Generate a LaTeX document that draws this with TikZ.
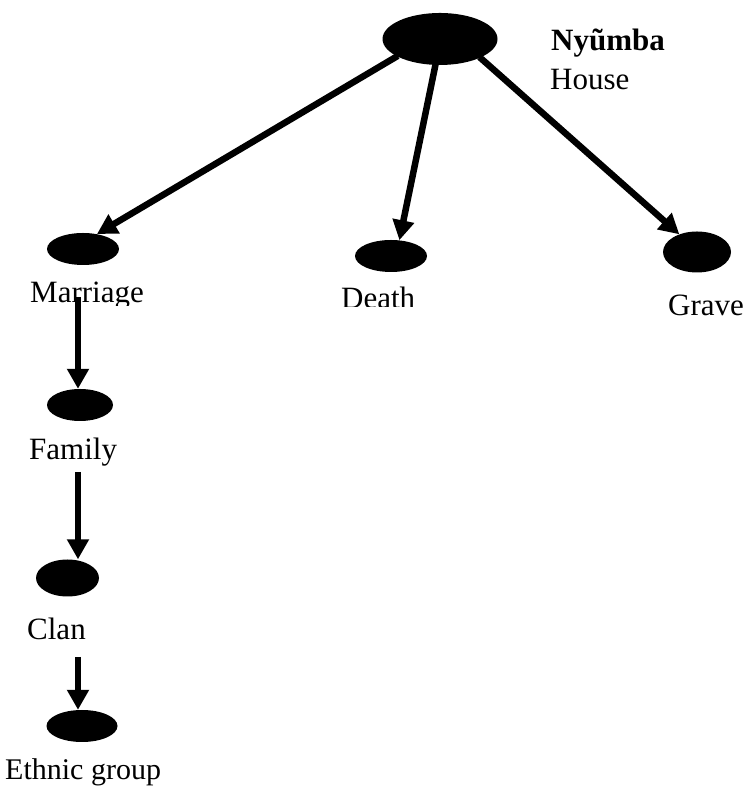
\documentclass[tikz,border=0pt]{standalone}
\usepackage{fontspec}
\setmainfont{Liberation Serif}
\usetikzlibrary{arrows.meta,shapes.geometric}
\begin{document}
\begin{tikzpicture}[x=1pt,y=1pt,
  blob/.style 2 args={ellipse, fill=black, inner sep=0pt, minimum width=#1, minimum height=#2},
  arr/.style={line width=6.5pt, -{Triangle[length=20pt,width=21pt]}, shorten <=-1pt},
  lbl/.style={anchor=base west, inner sep=0pt, font=\fontsize{31}{37}\selectfont}]
\useasboundingbox (0,0) rectangle (748,791);
% nodes (y measured from the bottom of the page)
\node[blob={115pt}{52pt}] (house) at (440,752) {};
\node[blob={72pt}{32pt}] (mar) at (83,542) {};
\node[blob={72pt}{32pt}] (death) at (391,535) {};
\node[blob={68pt}{41pt}] (grave) at (697,539) {};
\node[blob={66pt}{32pt}] (fam) at (80,386) {};
\node[blob={63pt}{37pt}] (clan) at (67.5,213) {};
\node[blob={71pt}{32pt}] (eth) at (82,65) {};
% labels
\node[lbl, font=\fontsize{31}{37}\selectfont\bfseries] (tnyu) at (551,740) {Nyũmba};
\node[lbl] (thouse) at (550,701) {House};
\begin{scope}
  \clip (0,485) rectangle (200,560);
  \node[lbl] (tmar) at (30,488) {Marriage};
\end{scope}
\begin{scope}
  \clip (300,484) rectangle (460,560);
  \node[lbl] (tdeath) at (341,482) {Death};
\end{scope}
\node[lbl] (tgrave) at (668,475) {Grave};
\node[lbl] (tfam) at (29,331) {Family};
\node[lbl] (tclan) at (27,151) {Clan};
\node[lbl, font=\fontsize{30}{36}\selectfont] (teth) at (5,11) {Ethnic group};
% connectors
\draw[arr] (house.-158) -- (mar.47);
\draw[arr] (house.-100) -- (death.62);
\draw[arr] (house.-25) -- (grave.135);
\coordinate (s1) at (78,493);
\coordinate (s2) at (78,318);
\coordinate (s3) at (78,133);
\draw[arr] (s1) -- (s1 |- fam.north);
\draw[arr] (s2) -- (s2 |- clan.north);
\draw[arr] (s3) -- (s3 |- eth.north);
\end{tikzpicture}
\end{document}
